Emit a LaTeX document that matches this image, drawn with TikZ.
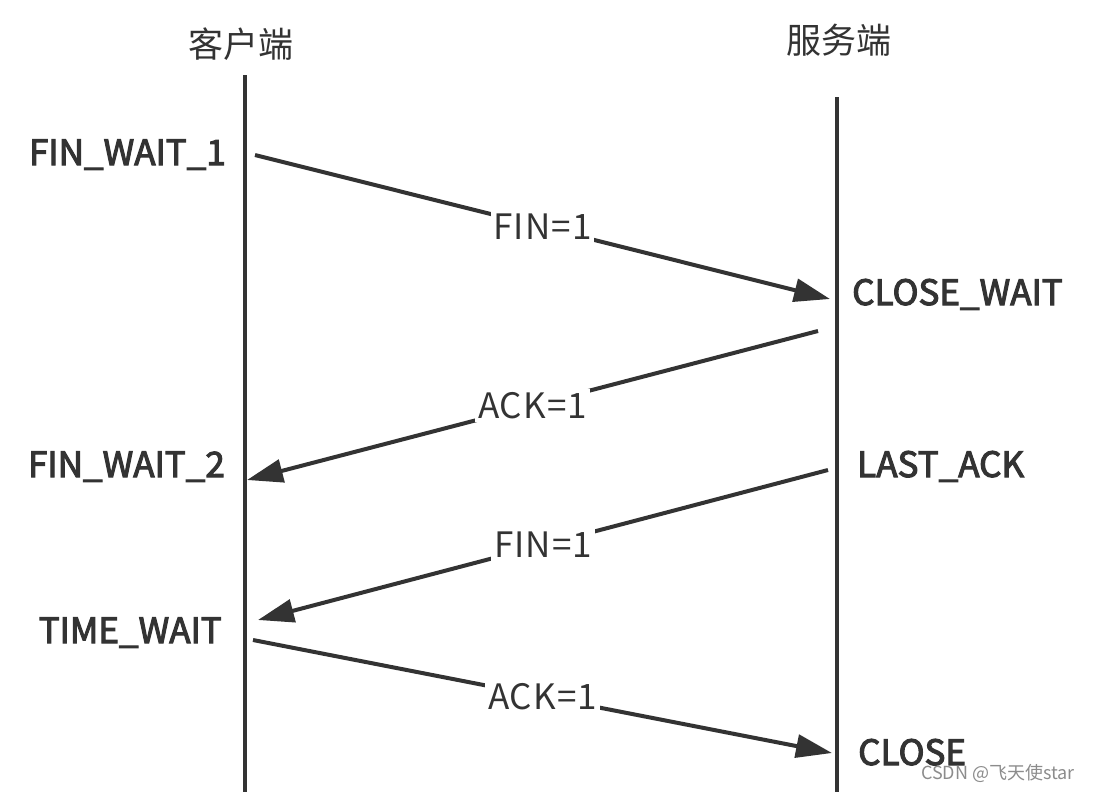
\documentclass[tikz,border=0pt]{standalone}
\usepackage{fontspec}
\setmainfont{Noto Sans CJK SC}
\newfontfamily\statefont{Noto Sans CJK SC}[FakeBold=3]
\newfontfamily\labelfont{Noto Sans CJK SC}[LetterSpace=3]
\usetikzlibrary{arrows.meta}
\definecolor{ink}{RGB}{51,51,51}
\definecolor{wm}{RGB}{140,140,140}
\tikzset{
  lifeline/.style={draw=ink, line width=3.6pt},
  msg/.style={draw=ink, line width=4pt, -{Triangle[length=36pt,width=23pt]}},
  msglabel/.style={fill=white, text=ink, font=\labelfont\fontsize{35}{40}\selectfont, inner sep=3pt},
  statel/.style={text=ink, font=\statefont\fontsize{35}{40}\selectfont, inner sep=0pt, anchor=base east},
  stater/.style={text=ink, font=\statefont\fontsize{35}{40}\selectfont, inner sep=0pt, anchor=base west},
  header/.style={text=ink, font=\fontsize{35}{40}\selectfont, inner sep=0pt},
}
\begin{document}
\begin{tikzpicture}[x=1pt,y=-1pt]
\useasboundingbox (0,0) rectangle (1094,792);
\fill[white] (0,0) rectangle (1094,792);

% headers
\node[header] (hc) at (241,44) {客户端};
\node[header] (hs) at (839,40) {服务端};

% lifelines
\coordinate (ct) at (245,75);
\coordinate (cb) at (245,792);
\coordinate (st) at (837,97);
\coordinate (sb) at (837,792);
\draw[lifeline] (ct) -- (cb);
\draw[lifeline] (st) -- (sb);

% states
\node[statel] (fw1) at (226,165) {FIN\_WAIT\_1};
\node[statel] (fw2) at (225,477) {FIN\_WAIT\_2};
\node[statel] (tw)  at (222,643) {TIME\_WAIT};
\node[stater] (cw)  at (852,305) {CLOSE\_WAIT};
\node[stater] (la)  at (857,477) {LAST\_ACK};
\node[stater] (cl)  at (858,765) {CLOSE};

% message end points
\coordinate (a1s) at (255,155);
\coordinate (a1e) at (830,299);
\coordinate (a2s) at (818,331);
\coordinate (a2e) at (247,480);
\coordinate (a3s) at (828,470);
\coordinate (a3e) at (258,620);
\coordinate (a4s) at (253,640);
\coordinate (a4e) at (832,753);

\draw[msg] (a1s) -- node[msglabel] (l1) {FIN=1} (a1e);
\draw[msg] (a2s) -- node[msglabel] (l2) {ACK=1} (a2e);
\draw[msg] (a3s) -- node[msglabel] (l3) {FIN=1} (a3e);
\draw[msg] (a4s) -- node[msglabel] (l4) {ACK=1} (a4e);

% watermark
\node[text=wm, font=\fontsize{18}{21}\selectfont, inner sep=0pt] (wmk) at (998,773) {CSDN @飞天使star};
\end{tikzpicture}
\end{document}
